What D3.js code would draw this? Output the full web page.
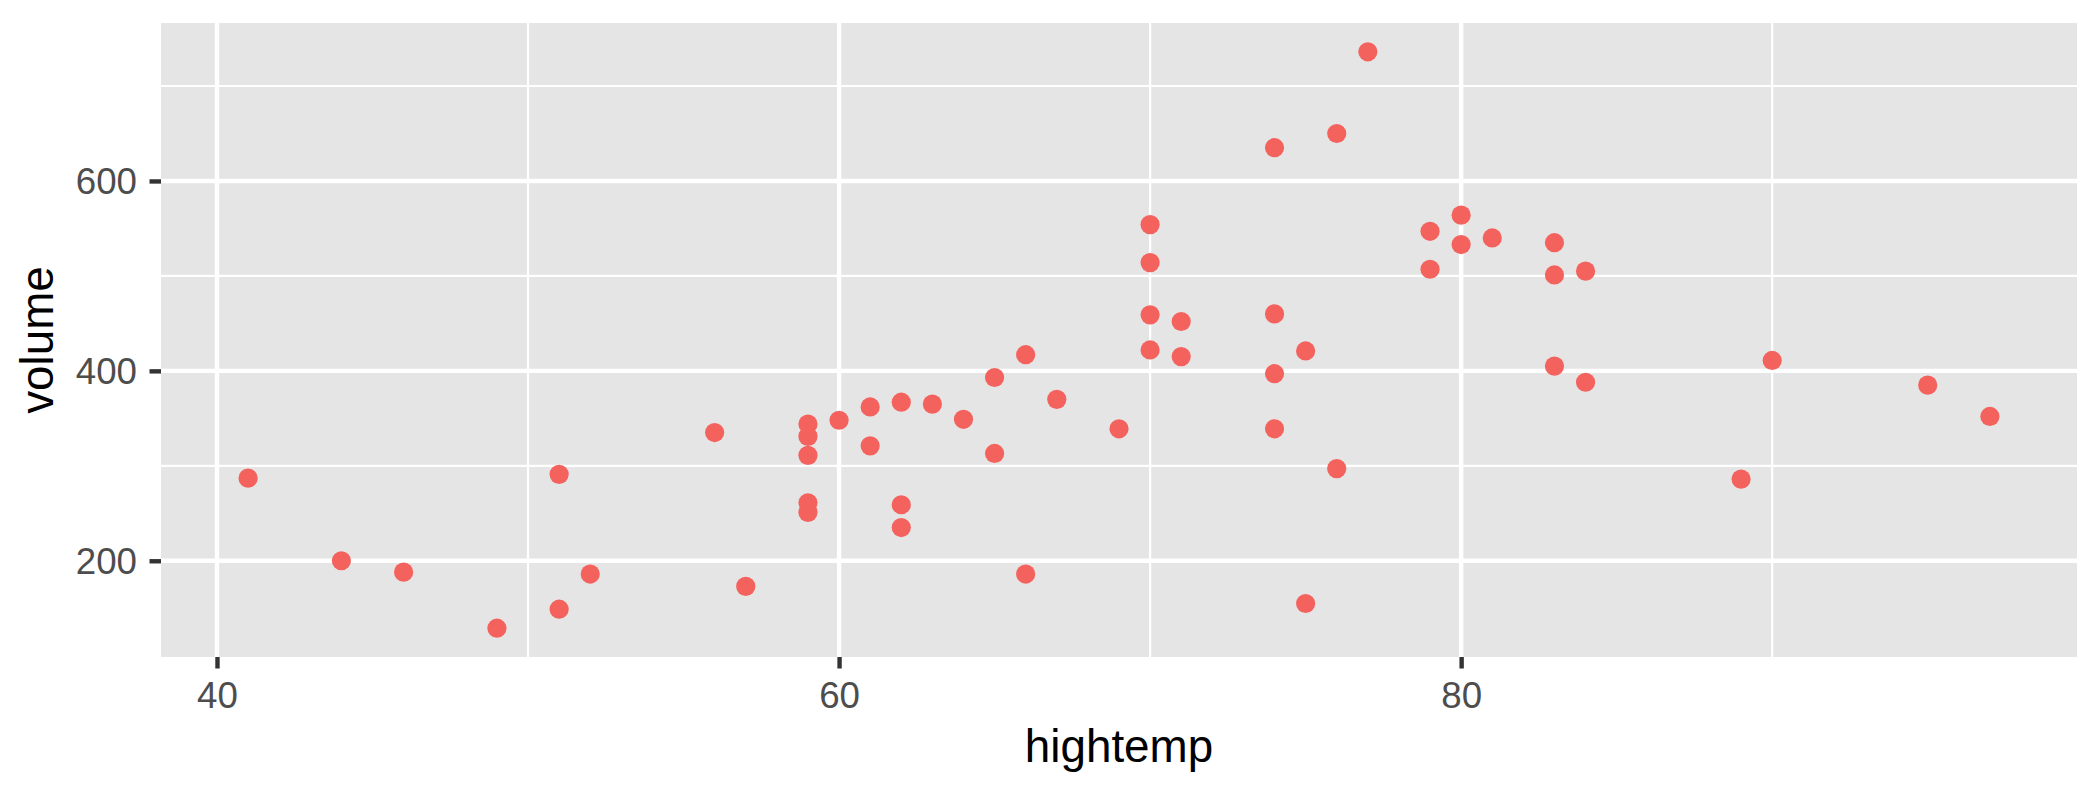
<!DOCTYPE html>
<html>
<head>
<meta charset="utf-8">
<script src="https://cdn.jsdelivr.net/npm/d3@7"></script>
<style>
  html, body { margin: 0; padding: 0; background: #ffffff; }
  svg { display: block; }
</style>
</head>
<body>
<svg id="chart" width="2100" height="795"></svg>
<script>
// ---- data ----
const hightemp = [41, 44, 46, 49, 51, 51, 52, 56, 57, 59, 59, 59, 59, 59, 60, 61, 61, 62, 62, 62,
  63, 64, 65, 65, 66, 66, 67, 69, 70, 70, 70, 70, 71, 71, 74, 74, 74, 74, 75, 75,
  76, 76, 77, 79, 79, 80, 80, 81, 83, 83, 83, 84, 84, 89, 90, 95, 97];
const volume = [287, 200, 188, 129, 291, 149, 186, 335, 173, 344, 331, 311, 261, 251, 348, 362, 321, 367, 259, 235,
  365, 349, 393, 313, 417, 186, 370, 339, 554, 514, 459, 422, 452, 415, 635, 460, 397, 339, 421, 155,
  650, 297, 736, 547, 507, 564, 533, 540, 535, 501, 405, 505, 388, 286, 411, 385, 352];
const xTicks = [40, 60, 80];
const xMinor = [50, 70, 90];
const yTicks = [200, 400, 600];
const yMinor = [300, 500, 700];
const xLabel = "hightemp";
const yLabel = "volume";

const points = hightemp.map((h, i) => ({ x: h, y: volume[i] }));

// ---- layout ----
const panel = { left: 161, right: 2077, top: 23, bottom: 657 };
const expand = (ext) => { const d = (ext[1] - ext[0]) * 0.05; return [ext[0] - d, ext[1] + d]; };

const x = d3.scaleLinear().domain(expand(d3.extent(hightemp))).range([panel.left, panel.right]);
const y = d3.scaleLinear().domain(expand(d3.extent(volume))).range([panel.bottom, panel.top]);

const svg = d3.select("#chart");
const font = "'Liberation Sans', Arial, Helvetica, sans-serif";

// panel background
svg.append("rect")
  .attr("x", panel.left).attr("y", panel.top)
  .attr("width", panel.right - panel.left).attr("height", panel.bottom - panel.top)
  .attr("fill", "#E5E5E5");

const grid = svg.append("g");
// minor grid
grid.selectAll(".xminor").data(xMinor).enter().append("line")
  .attr("x1", d => x(d)).attr("x2", d => x(d))
  .attr("y1", panel.top).attr("y2", panel.bottom)
  .attr("stroke", "#ffffff").attr("stroke-width", 2.2);
grid.selectAll(".yminor").data(yMinor).enter().append("line")
  .attr("y1", d => y(d)).attr("y2", d => y(d))
  .attr("x1", panel.left).attr("x2", panel.right)
  .attr("stroke", "#ffffff").attr("stroke-width", 2.2);
// major grid
grid.selectAll(".xmajor").data(xTicks).enter().append("line")
  .attr("x1", d => x(d)).attr("x2", d => x(d))
  .attr("y1", panel.top).attr("y2", panel.bottom)
  .attr("stroke", "#ffffff").attr("stroke-width", 4.4);
grid.selectAll(".ymajor").data(yTicks).enter().append("line")
  .attr("y1", d => y(d)).attr("y2", d => y(d))
  .attr("x1", panel.left).attr("x2", panel.right)
  .attr("stroke", "#ffffff").attr("stroke-width", 4.4);

// points
svg.append("g").selectAll("circle").data(points).enter().append("circle")
  .attr("cx", d => x(d.x)).attr("cy", d => y(d.y))
  .attr("r", 9.6)
  .attr("fill", "#F4625E");

// axes
const xAxis = d3.axisBottom(x).tickValues(xTicks).tickSize(11.5).tickPadding(9.5).tickFormat(d3.format("d"));
const yAxis = d3.axisLeft(y).tickValues(yTicks).tickSize(11.5).tickPadding(9.5).tickFormat(d3.format("d"));

const gx = svg.append("g").attr("transform", `translate(0,${panel.bottom})`).call(xAxis);
const gy = svg.append("g").attr("transform", `translate(${panel.left},0)`).call(yAxis);

[gx, gy].forEach(g => {
  g.select(".domain").remove();
  g.selectAll(".tick line").attr("stroke", "#333333").attr("stroke-width", 4.4);
  g.selectAll(".tick text")
    .attr("fill", "#4D4D4D")
    .style("font-family", font)
    .style("font-size", "36.7px");
});
gx.selectAll(".tick text").attr("dy", null).attr("y", 50.5);
gy.selectAll(".tick text").attr("dy", null).attr("x", -24).attr("y", 13);

// axis titles
svg.append("text")
  .attr("x", (panel.left + panel.right) / 2).attr("y", 762)
  .attr("text-anchor", "middle")
  .style("font-family", font).style("font-size", "45.8px")
  .attr("fill", "#000000")
  .text(xLabel);

svg.append("text")
  .attr("transform", `translate(53,${(panel.top + panel.bottom) / 2}) rotate(-90)`)
  .attr("text-anchor", "middle")
  .style("font-family", font).style("font-size", "45.8px")
  .attr("fill", "#000000")
  .text(yLabel);
</script>
</body>
</html>
